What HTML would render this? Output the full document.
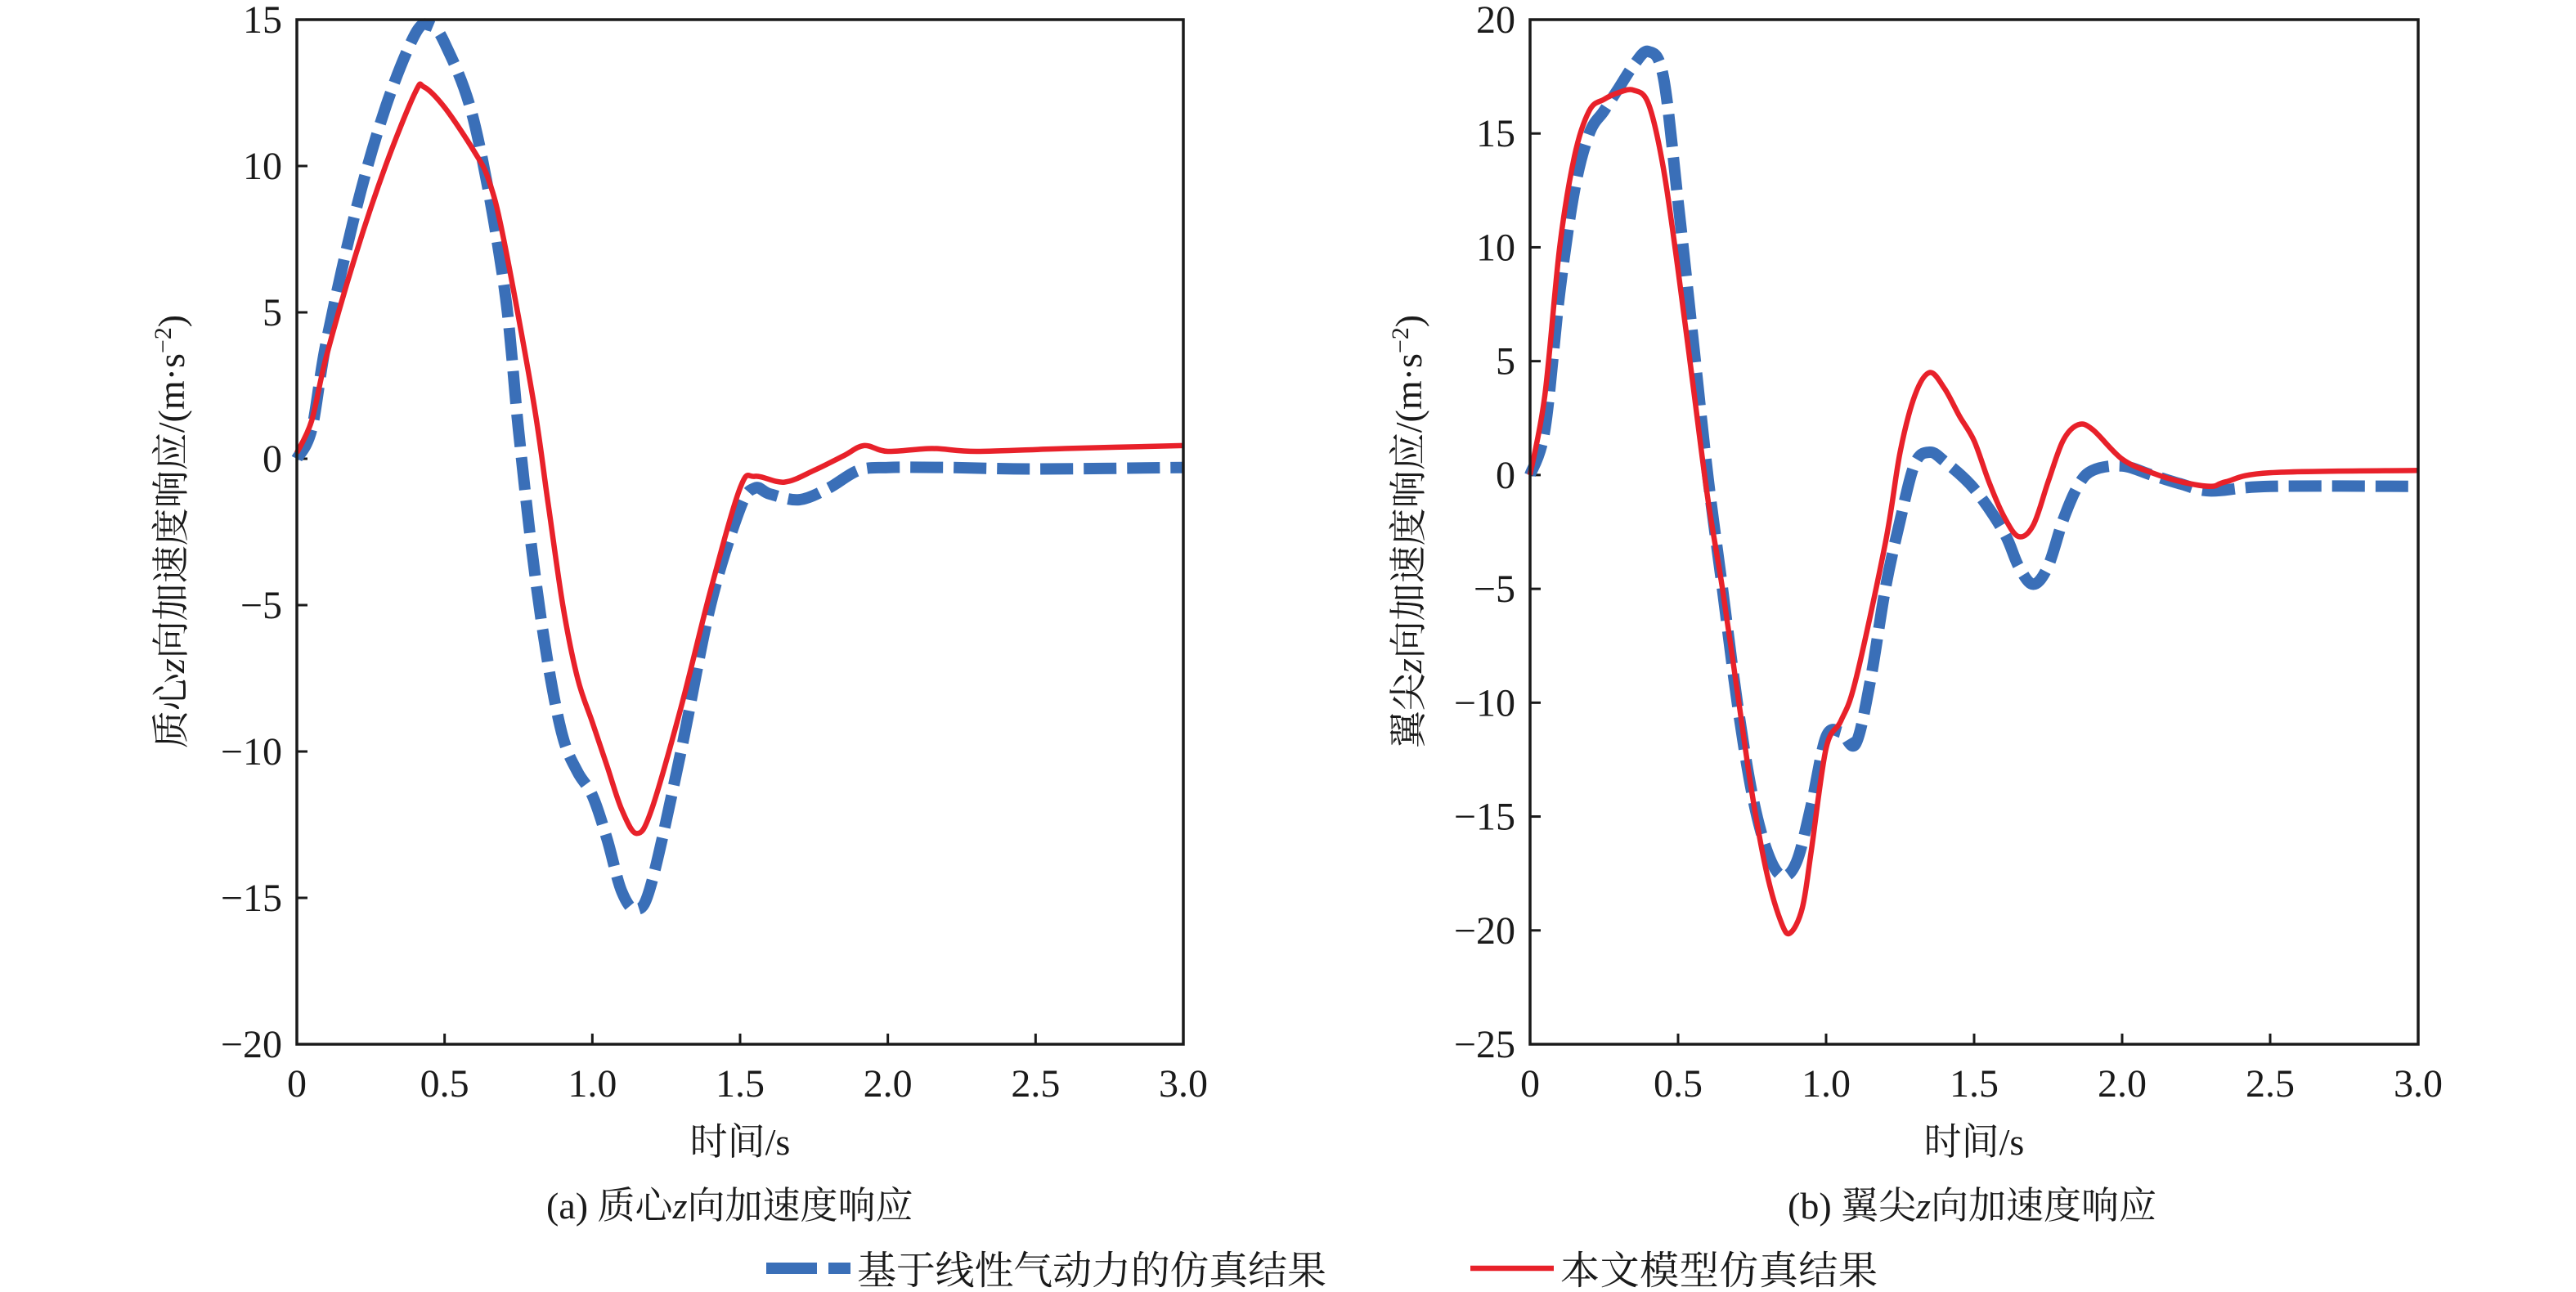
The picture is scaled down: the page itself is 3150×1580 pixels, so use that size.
<!DOCTYPE html>
<html><head><meta charset="utf-8"><style>
html,body{margin:0;padding:0;background:#fff;}
svg{display:block;}
text{font-family:"Liberation Serif","Noto Serif CJK SC",serif;fill:#1a1a1a;}
</style></head><body>
<svg id="chart" width="3150" height="1580" viewBox="0 0 3150 1580" xmlns="http://www.w3.org/2000/svg">
<g id="pa"></g>
<g id="pb"></g>
<text x="668" y="1490" font-size="46">(a) 质心<tspan font-style="italic">z</tspan>向加速度响应</text>
<text x="2186" y="1490" font-size="46">(b) 翼尖<tspan font-style="italic">z</tspan>向加速度响应</text>
<g>
<line x1="937" y1="1551" x2="1040" y2="1551" stroke="#3a6fb8" stroke-width="14" stroke-dasharray="62,14"/>
<text x="1048" y="1570" font-size="48" textLength="574">基于线性气动力的仿真结果</text>
<line x1="1798" y1="1551" x2="1900" y2="1551" stroke="#e8212a" stroke-width="6.5"/>
<text x="1908" y="1570" font-size="48" textLength="388">本文模型仿真结果</text>
</g>
</svg>
<script>
const xTickVals=[0,0.5,1,1.5,2,2.5,3];
const xTickLabels=["0","0.5","1.0","1.5","2.0","2.5","3.0"];
const aYTicks=[15,10,5,0,-5,-10,-15,-20];
const bYTicks=[20,15,10,5,0,-5,-10,-15,-20,-25];
const aT_blue=[0,0.05,0.1,0.2,0.3,0.4,0.45,0.5,0.6,0.7,0.75,0.8,0.85,0.9,0.95,1.0,1.05,1.1,1.15,1.2,1.3,1.4,1.5,1.55,1.6,1.7,1.8,1.9,2.0,2.2,2.5,3.0];
const aV_blue=[0,1,4,8.5,12,14.5,14.8,14.2,11.5,6,1,-3.5,-7,-9.5,-10.7,-11.5,-13,-14.8,-15.4,-14.5,-10,-5,-1.7,-1,-1.2,-1.4,-1,-0.4,-0.3,-0.3,-0.35,-0.3];
const aT_red=[0,0.05,0.1,0.2,0.3,0.4,0.43,0.5,0.6,0.65,0.7,0.8,0.85,0.9,0.95,1.0,1.05,1.1,1.15,1.2,1.3,1.4,1.5,1.55,1.65,1.75,1.85,1.92,2.0,2.15,2.3,2.6,3.0];
const aV_red=[0.2,1.3,3.5,7,10,12.5,12.7,12,10.5,9.5,7.5,2,-1.5,-5,-7.5,-9,-10.5,-12,-12.8,-12,-8.5,-4.5,-1,-0.6,-0.8,-0.4,0.1,0.45,0.25,0.35,0.25,0.35,0.45];
const bT_blue=[0,0.05,0.1,0.15,0.2,0.25,0.3,0.35,0.4,0.45,0.5,0.55,0.6,0.65,0.7,0.75,0.8,0.85,0.9,0.95,1.0,1.05,1.1,1.15,1.2,1.25,1.3,1.35,1.4,1.5,1.6,1.65,1.7,1.75,1.8,1.85,1.9,2.0,2.1,2.2,2.3,2.5,3.0];
const bV_blue=[0,2,8,12.5,15,16,17,18,18.6,17.5,12,6,0,-5,-10,-14,-16.5,-17.6,-17,-14.5,-11.5,-11.3,-11.8,-9,-5,-2,0.5,1,0.6,-0.6,-2.5,-4,-4.8,-4,-2,-0.5,0.2,0.4,0,-0.4,-0.7,-0.5,-0.5];
const bT_red=[0,0.05,0.1,0.15,0.2,0.25,0.3,0.35,0.4,0.45,0.5,0.55,0.6,0.65,0.7,0.75,0.8,0.85,0.88,0.92,0.95,1.0,1.05,1.1,1.2,1.25,1.3,1.35,1.4,1.45,1.5,1.55,1.6,1.65,1.7,1.75,1.8,1.85,1.9,2.0,2.1,2.2,2.3,2.35,2.5,3.0];
const bV_red=[0,3.5,10,14,16,16.5,16.8,16.9,16.3,13.5,9,4,-1,-5,-9.5,-14,-17.5,-19.7,-20.1,-19,-16.5,-12,-10.8,-9,-3,1,3.5,4.5,3.8,2.6,1.5,-0.3,-1.8,-2.7,-2.2,-0.3,1.5,2.2,2,0.7,0.1,-0.3,-0.5,-0.3,0.1,0.2];

const NS="http://www.w3.org/2000/svg";
function mk(tag,attrs,parent){const e=document.createElementNS(NS,tag);for(const k in attrs)e.setAttribute(k,attrs[k]);parent.appendChild(e);return e;}
function smooth(pts){let d="M"+pts[0][0]+","+pts[0][1];for(let i=0;i<pts.length-1;i++){const p0=pts[Math.max(0,i-1)],p1=pts[i],p2=pts[i+1],p3=pts[Math.min(pts.length-1,i+2)];const c1x=p1[0]+(p2[0]-p0[0])/6,c1y=p1[1]+(p2[1]-p0[1])/6,c2x=p2[0]-(p3[0]-p1[0])/6,c2y=p2[1]-(p3[1]-p1[1])/6;d+=" C"+c1x.toFixed(1)+","+c1y.toFixed(1)+" "+c2x.toFixed(1)+","+c2y.toFixed(1)+" "+p2[0].toFixed(1)+","+p2[1].toFixed(1);}return d;}
function fmt(v){return v<0?"\u2212"+(-v):String(v);}
function panel(g,L,R,T,B,ymax,ymin,yticks,tb,vb,tr,vr,ytitle,titleX){
  const xs=t=>L+(t-0)/3*(R-L);
  const ys=v=>T+(ymax-v)/(ymax-ymin)*(B-T);
  let e;
  yticks.forEach(v=>{
    e=mk("line",{x1:L,x2:L+13,y1:ys(v),y2:ys(v),stroke:"#1a1a1a","stroke-width":3},g);
    
    
    e=mk("text",{x:L-18,y:ys(v)+16,"font-size":48,"text-anchor":"end"},g);
    e.textContent=fmt(v);
    
    
  });
  xTickVals.forEach((v,i)=>{
    e=mk("line",{x1:xs(v),x2:xs(v),y1:B,y2:B-13,stroke:"#1a1a1a","stroke-width":3},g);
    
    
    e=mk("text",{x:xs(v),y:B+64,"font-size":48,"text-anchor":"middle"},g);
    e.textContent=xTickLabels[i];
    
    
  });
  e=mk("path",{d:smooth(tb.map((t,i)=>[xs(t),ys(vb[i])])),fill:"none",stroke:"#3a6fb8","stroke-width":14,"stroke-dasharray":"40,13"},g);
  
  
  e=mk("path",{d:smooth(tr.map((t,i)=>[xs(t),ys(vr[i])])),fill:"none",stroke:"#e8212a","stroke-width":6.5},g);
  
  
  e=mk("rect",{x:L,y:T,width:R-L,height:B-T,fill:"none",stroke:"#1a1a1a","stroke-width":3.5},g);
  
  
  e=mk("text",{x:(L+R)/2,y:1412,"font-size":46,"text-anchor":"middle"},g);
  e.textContent="时间/s";
  
  
  e=mk("text",{x:0,y:0,"font-size":46,"text-anchor":"middle",transform:"translate("+titleX+",650) rotate(-90)"},g);
  e.innerHTML=ytitle;
  
  
}
panel(document.getElementById("pa"),363,1447,24,1277,15,-20,aYTicks,aT_blue,aV_blue,aT_red,aV_red,'质心<tspan font-style="italic">z</tspan>向加速度响应/(m·s<tspan font-size="30" dy="-16">−2</tspan><tspan dy="16">)</tspan>',225);
panel(document.getElementById("pb"),1871,2957,24,1277,20,-25,bYTicks,bT_blue,bV_blue,bT_red,bV_red,'翼尖<tspan font-style="italic">z</tspan>向加速度响应/(m·s<tspan font-size="30" dy="-16">−2</tspan><tspan dy="16">)</tspan>',1738);
</script>
</body></html>
